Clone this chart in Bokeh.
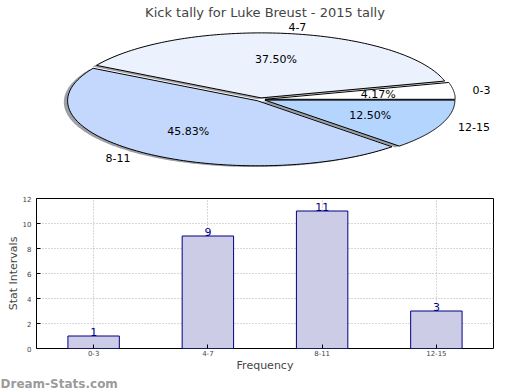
import numpy as np
from bokeh.plotting import figure
from bokeh.layouts import column
from bokeh.models import ColumnDataSource, Title, SingleIntervalTicker
from bokeh.core.properties import value
from bokeh.embed import file_html
from bokeh.resources import INLINE

# ---- data ----
title_text = "Kick tally for Luke Breust - 2015 tally"
categories = ["0-3", "4-7", "8-11", "12-15"]
counts = [1, 9, 11, 3]
pie_colors = ["#FFFFFF", "#EBF2FE", "#C4D8FE", "#B4D6FE"]
y_label = "Stat Intervals"
x_label = "Frequency"
watermark = "Dream-Stats.com"

FONT = "DejaVu Sans"
W = 520
H = 390
L_BORDER = 36   # frame left (shared by both figures)
R_BORDER = 27   # frame right border

# ---- pie ----
explode = 0.025
vals = np.array(counts, dtype=float)
fracs = vals / vals.sum()
edges = np.concatenate([[0.0], np.cumsum(fracs)]) * 2 * np.pi

px_x = 190.0   # pixels per unit, horizontal
px_y = 65.0    # pixels per unit, vertical (squashed pie)
cx_pix = 260.0
cy_pix = 99.0
PH = 188
T = 21          # assumed frame top (title panel height)
pie = figure(width=W, height=PH, output_backend="svg", toolbar_location=None,
             x_range=(-(cx_pix - L_BORDER) / px_x, (W - R_BORDER - cx_pix) / px_x),
             y_range=(-(PH - cy_pix) / px_y, (cy_pix - T) / px_y),
             min_border=0, min_border_left=L_BORDER, min_border_right=R_BORDER,
             title=title_text)
pie.title.align = "center"
pie.title.offset = -5
pie.title.text_font = FONT
pie.title.text_font_size = "13px"
pie.title.text_font_style = "normal"
pie.title.standoff = 4
pie.axis.visible = False
pie.grid.visible = False
pie.outline_line_color = None

xs, ys, sxs, sys_, mids = [], [], [], [], []
for i in range(len(counts)):
    t1, t2 = edges[i], edges[i + 1]
    mid = (t1 + t2) / 2
    cx, cyy = explode * np.cos(mid), explode * np.sin(mid)
    th = np.linspace(t1, t2, 120)
    px = np.concatenate([[cx], cx + np.cos(th)])
    py = np.concatenate([[cyy], cyy + np.sin(th)])
    xs.append(px); ys.append(py)
    sxs.append(px - 0.02); sys_.append(py - 0.02)
    mids.append(mid)

shadow_cols = []
for c in pie_colors:
    r, g, b = int(c[1:3], 16), int(c[3:5], 16), int(c[5:7], 16)
    shadow_cols.append("#%02x%02x%02x" % (int(r * 0.3), int(g * 0.3), int(b * 0.3)))

pie.patches(xs=sxs, ys=sys_, fill_color=shadow_cols, fill_alpha=0.5, line_color=None)
pie.patches(xs=xs, ys=ys, fill_color=pie_colors, line_color="black", line_width=1)

mids = np.array(mids)
lab_r = 1.1 + explode
lx = lab_r * np.cos(mids)
ly = lab_r * np.sin(mids)
aligns = ["left" if v > 0 else "right" for v in lx]
pie.text(x=lx, y=ly, text=categories, text_align=aligns, text_baseline="middle",
         text_font=value(FONT), text_font_size="11px", text_color="black")
pct_r = 0.6 + explode
pct = ["%.2f%%" % (f * 100) for f in fracs]
pie.text(x=pct_r * np.cos(mids), y=pct_r * np.sin(mids), text=pct,
         text_align="center", text_baseline="middle",
         text_font=value(FONT), text_font_size="11px", text_color="black")

# ---- bar ----
BH = H - PH
bar = figure(width=W, height=BH, output_backend="svg", toolbar_location=None,
             x_range=categories, y_range=(0, 12),
             min_border_top=10, min_border_right=R_BORDER, min_border_left=L_BORDER,
             min_border_bottom=0)
src = ColumnDataSource(dict(cat=categories, cnt=counts, lab=[str(c) for c in counts]))
bar.vbar(x="cat", top="cnt", width=0.45, source=src, fill_color="#CCCCE6",
         line_color="#000080", line_width=1)
bar.text(x="cat", y="cnt", text="lab", source=src, text_align="center",
         text_baseline="bottom", text_font=value(FONT), text_font_size="11px",
         text_color="#000080")
bar.yaxis.ticker = SingleIntervalTicker(interval=2)
bar.outline_line_color = "black"
bar.outline_line_width = 1
for ax in (bar.xaxis[0], bar.yaxis[0]):
    ax.axis_line_color = None
    ax.major_tick_in = 4
    ax.major_tick_out = 0
    ax.minor_tick_line_color = None
    ax.major_label_text_font = FONT
    ax.major_label_text_font_size = "7px"
    ax.major_label_standoff = 1
    ax.axis_label_text_font = FONT
    ax.axis_label_text_font_style = "normal"
    ax.axis_label_text_font_size = "11px"
    ax.axis_label_standoff = 0
bar.yaxis.axis_label = y_label
bar.xaxis.axis_label = x_label
bar.grid.grid_line_color = "#b0b0b0"
bar.grid.grid_line_dash = "1 2"
bar.add_layout(Title(text=watermark, align="left", offset=-L_BORDER, standoff=0,
                     text_font=FONT, text_font_size="12px", text_font_style="bold",
                     text_color="#808080", text_alpha=0.8), "below")

layout = column(pie, bar)
open("out.html", "w").write(file_html(layout, INLINE))
